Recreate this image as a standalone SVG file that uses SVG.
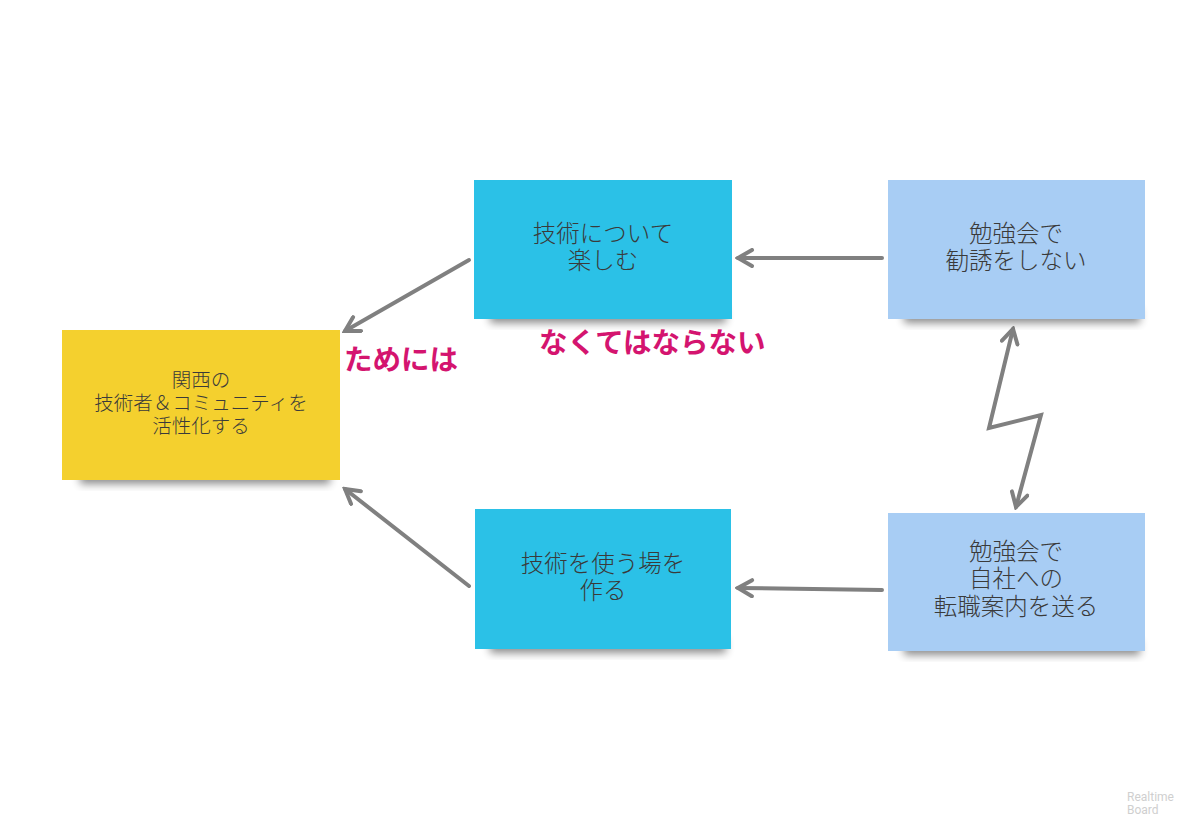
<svg xmlns="http://www.w3.org/2000/svg" width="1203" height="831" viewBox="0 0 1203 831">
<style>
.t{font-family:"Noto Sans CJK JP","Noto Sans",sans-serif;font-weight:300;fill:#3a3a3a;text-anchor:middle}
.b{font-size:23.5px}
.y{font-size:19.5px}
.lbl{font-family:"Noto Sans CJK JP","Noto Sans",sans-serif;font-weight:bold;font-size:28.5px;fill:#d4146f}
.c{fill:none;stroke:#808080;stroke-width:4;stroke-linecap:round;stroke-linejoin:miter}
.wm{font-family:"Roboto","Noto Sans",sans-serif;font-size:12px;fill:#cfcfcf}
</style>
<defs>
<filter id="sh" x="-20%" y="-50%" width="140%" height="200%"><feGaussianBlur stdDeviation="4"/></filter>
<marker id="ah" viewBox="0 0 20 20" refX="17" refY="10" markerWidth="20" markerHeight="20" markerUnits="userSpaceOnUse" orient="auto-start-reverse">
<path d="M3,2 L17,10 L3,18" fill="none" stroke="#808080" stroke-width="4" stroke-linecap="round"/>
</marker>
</defs>
<rect width="1203" height="831" fill="#ffffff"/>
<g id="connectors">
<line class="c" x1="469" y1="260" x2="345" y2="331" marker-end="url(#ah)"/>
<line class="c" x1="882" y1="258" x2="738" y2="258" marker-end="url(#ah)"/>
<line class="c" x1="469" y1="586" x2="345" y2="489" marker-end="url(#ah)"/>
<line class="c" x1="882" y1="590" x2="738" y2="588" marker-end="url(#ah)"/>
<polyline class="c" points="1013,329 989,428 1041,415 1016,507" marker-start="url(#ah)" marker-end="url(#ah)"/>
</g>
<g id="n1">
<rect x="80" y="470" width="250" height="14" fill="#000" opacity="0.45" filter="url(#sh)"/>
<rect x="62" y="330" width="278" height="150" fill="#f4d02e"/>
<text class="t y" x="201" y="387">関西の</text>
<text class="t y" x="201" y="410">技術者＆コミュニティを</text>
<text class="t y" x="201" y="433">活性化する</text>
</g>
<g id="n2">
<rect x="490" y="309" width="236" height="14" fill="#000" opacity="0.45" filter="url(#sh)"/>
<rect x="474" y="180" width="258" height="139" fill="#2bc1e7"/>
<text class="t b" x="603" y="242">技術について</text>
<text class="t b" x="603" y="269">楽しむ</text>
</g>
<g id="n3">
<rect x="904" y="309" width="236" height="14" fill="#000" opacity="0.45" filter="url(#sh)"/>
<rect x="888" y="180" width="257" height="139" fill="#a8cdf4"/>
<text class="t b" x="1016" y="242">勉強会で</text>
<text class="t b" x="1016" y="269">勧誘をしない</text>
</g>
<g id="n4">
<rect x="490" y="639" width="236" height="14" fill="#000" opacity="0.45" filter="url(#sh)"/>
<rect x="475" y="509" width="256" height="140" fill="#2bc1e7"/>
<text class="t b" x="603" y="572">技術を使う場を</text>
<text class="t b" x="603" y="599">作る</text>
</g>
<g id="n5">
<rect x="904" y="641" width="236" height="14" fill="#000" opacity="0.45" filter="url(#sh)"/>
<rect x="888" y="513" width="257" height="138" fill="#a8cdf4"/>
<text class="t b" x="1016" y="560">勉強会で</text>
<text class="t b" x="1016" y="587">自社への</text>
<text class="t b" x="1016" y="615">転職案内を送る</text>
</g>
<g id="labels">
<text class="lbl" x="344" y="370">ためには</text>
<text class="lbl" x="539" y="353">なくてはならない</text>
</g>
<text class="wm" x="1127" y="801">Realtime</text>
<text class="wm" x="1127" y="814">Board</text>
</svg>
